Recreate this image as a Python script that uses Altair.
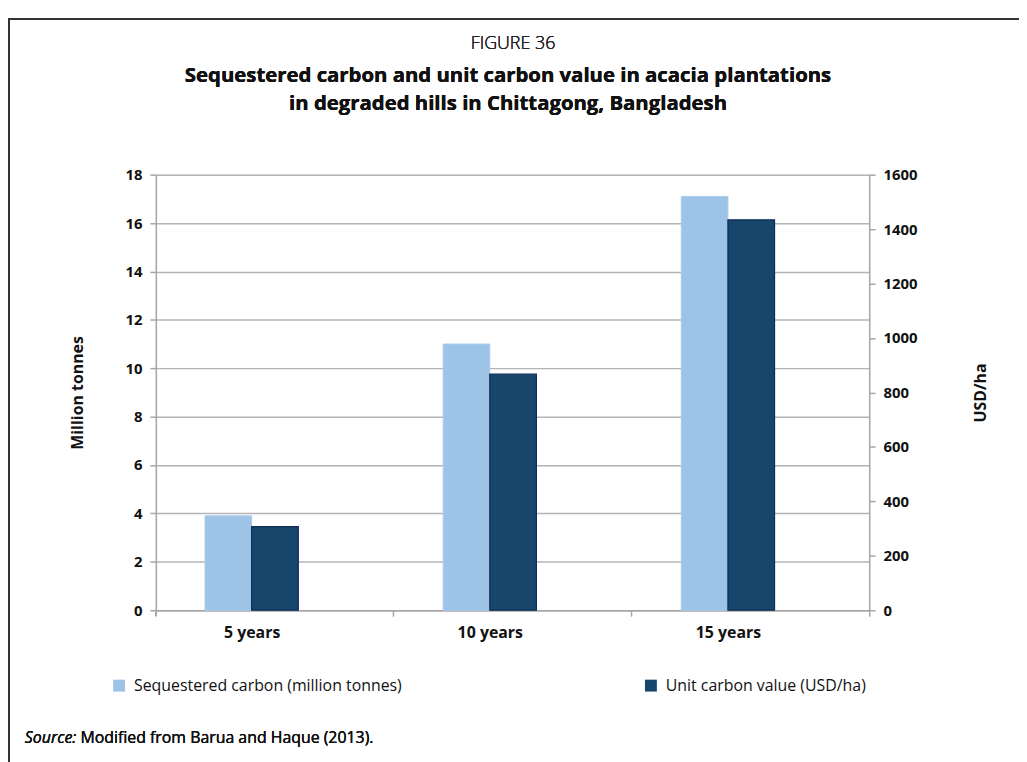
import altair as alt
import pandas as pd

categories = ["5 years", "10 years", "15 years"]
series_names = ["Sequestered carbon (million tonnes)", "Unit carbon value (USD/ha)"]
carbon_mt = [3.9, 11.0, 17.1]
unit_value_usd = [307, 867, 1434]
left_ticks = [0, 2, 4, 6, 8, 10, 12, 14, 16, 18]
right_ticks = [0, 200, 400, 600, 800, 1000, 1200, 1400, 1600]
title_lines = [
    "FIGURE 36",
    "Sequestered carbon and unit carbon value in acacia plantations",
    "in degraded hills in Chittagong, Bangladesh",
]
source_label = "Source:"
source_text = "Modified from Barua and Haque (2013)."

LIGHT = "#9DC3E6"
DARK = "#17466D"
FONT = "Open Sans"
AXIS_GRAY = "#a6a6a6"

df_c = pd.DataFrame({"period": categories, "series": series_names[0], "value": carbon_mt})
df_v = pd.DataFrame({"period": categories, "series": series_names[1], "value": unit_value_usd})

x_enc = alt.X(
    "period:N",
    sort=categories,
    scale=alt.Scale(paddingInner=0.6083, paddingOuter=0.302, align=0.342),
    axis=alt.Axis(
        title=None, labelFont=FONT, labelFontWeight="bold", labelFontSize=16,
        labelColor="#111", labelPadding=8, tickSize=6, tickOffset=142.4,
        labelOffset=-142.4, tickColor=AXIS_GRAY, domainColor=AXIS_GRAY,
        domainWidth=1.5, tickWidth=1.5, labelAngle=0, grid=False,
    ),
)
xoff_enc = alt.XOffset(
    "series:N",
    scale=alt.Scale(domain=series_names, paddingInner=0, paddingOuter=0),
)
color_enc = alt.Color(
    "series:N",
    scale=alt.Scale(domain=series_names, range=[LIGHT, DARK]),
    legend=alt.Legend(
        title=None, orient="none", legendX=-45, legendY=507, direction="horizontal",
        symbolType="square", symbolSize=144, symbolStrokeWidth=0, labelFont=FONT,
        labelFontSize=16, labelColor="#111", labelOffset=7, labelLimit=500,
        columnPadding=242, padding=0,
    ),
)

bars_c = alt.Chart(df_c).mark_bar(stroke="#A9CCEC", strokeWidth=1).encode(
    x=x_enc,
    xOffset=xoff_enc,
    y=alt.Y(
        "value:Q",
        scale=alt.Scale(domain=[0, 18]),
        axis=alt.Axis(
            title="Million tonnes", values=left_ticks, orient="left", format="d",
            labelFont=FONT, labelFontWeight="bold", labelFontSize=15, labelColor="#111",
            titleFont=FONT, titleFontWeight="bold", titleFontSize=16, titleColor="#111",
            titleAngle=270, titleX=-79, titleY=219.5, titleAlign="center",
            titleBaseline="middle", labelPadding=8, tickSize=6, tickColor=AXIS_GRAY,
            tickWidth=1.5, domainColor=AXIS_GRAY, domainWidth=1.5,
            grid=True, gridColor="#b4b4b4", gridWidth=1.5,
        ),
    ),
    color=color_enc,
)

bars_v = alt.Chart(df_v).mark_bar(stroke="#0F2C55", strokeWidth=1.2).encode(
    x=x_enc,
    xOffset=xoff_enc,
    y=alt.Y(
        "value:Q",
        scale=alt.Scale(domain=[0, 1600]),
        axis=alt.Axis(
            title="USD/ha", values=right_ticks, orient="right", format="d",
            labelFont=FONT, labelFontWeight="bold", labelFontSize=15, labelColor="#111",
            titleFont=FONT, titleFontWeight="bold", titleFontSize=16, titleColor="#111",
            titleAngle=270, titleX=112, titleY=219.5, titleAlign="center",
            titleBaseline="middle", labelPadding=8, tickSize=6,
            tickColor=AXIS_GRAY, tickWidth=1.5, domainColor=AXIS_GRAY, domainWidth=1.5,
            grid=False,
        ),
    ),
    color=color_enc,
)

frame_top = alt.Chart(df_c).mark_rule(color="#333", strokeWidth=2).encode(
    x=alt.value(-149), x2=alt.value(880), y=alt.value(-157)
)
frame_left = alt.Chart(df_c).mark_rule(color="#333", strokeWidth=2).encode(
    x=alt.value(-148), y=alt.value(-157), y2=alt.value(600)
)
zero_tick = alt.Chart(df_c).mark_rule(color=AXIS_GRAY, strokeWidth=1.5).encode(
    x=alt.value(0), y=alt.value(439), y2=alt.value(445)
)

fig_label = alt.Chart(df_c).mark_text(
    font=FONT, fontSize=18, fontWeight=300, align="center", baseline="middle", color="#222"
).encode(x=alt.value(360), y=alt.value(-132), text=alt.value(title_lines[0]))
title_1 = alt.Chart(df_c).mark_text(
    font=FONT, fontSize=20.5, fontWeight="bold", align="center", baseline="middle", color="#111"
).encode(x=alt.value(355), y=alt.value(-99), text=alt.value(title_lines[1]))
title_2 = alt.Chart(df_c).mark_text(
    font=FONT, fontSize=20.5, fontWeight="bold", align="center", baseline="middle", color="#111"
).encode(x=alt.value(355), y=alt.value(-71), text=alt.value(title_lines[2]))

source_italic = alt.Chart(df_c).mark_text(
    font=FONT, fontSize=16, fontStyle="italic", align="left", baseline="middle", color="#111"
).encode(x=alt.value(-132), y=alt.value(568), text=alt.value(source_label))
source_rest = alt.Chart(df_c).mark_text(
    font=FONT, fontSize=16, align="left", baseline="middle", color="#111"
).encode(x=alt.value(-76), y=alt.value(568), text=alt.value(source_text))

chart = alt.layer(
    bars_c, bars_v, frame_top, frame_left, zero_tick,
    fig_label, title_1, title_2, source_italic, source_rest,
).resolve_scale(y="independent").properties(
    width=719,
    height=439,
    padding={"left": 149, "top": 165, "right": 151, "bottom": 150},
    autosize=alt.AutoSizeParams(type="none"),
).configure_view(stroke=None).configure(background="white")

chart.save("out.html", embed_options={"renderer": "svg", "actions": False})
